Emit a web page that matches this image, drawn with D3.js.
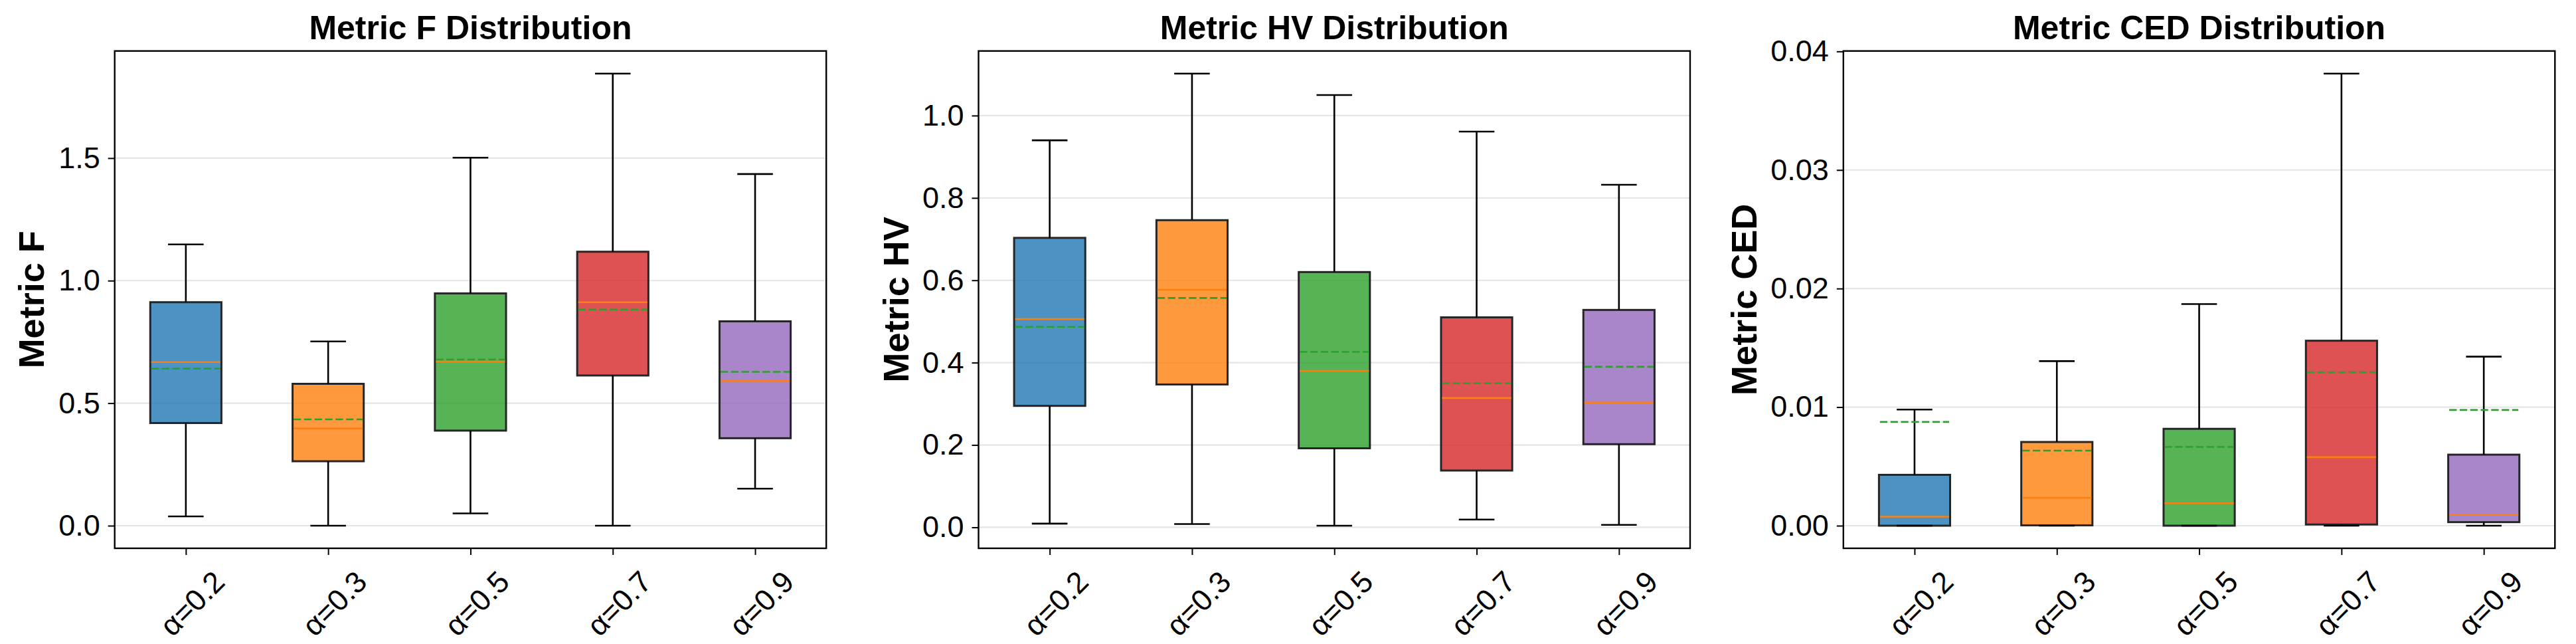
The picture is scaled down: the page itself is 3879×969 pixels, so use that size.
<!DOCTYPE html>
<html>
<head>
<meta charset="utf-8">
<script src="https://cdn.jsdelivr.net/npm/d3@7"></script>
<style>
  html, body { margin: 0; padding: 0; background: #fff; }
  svg { display: block; }
  text { font-family: "Liberation Sans", Arial, sans-serif; }
</style>
</head>
<body>
<svg id="chart" width="3879" height="969"></svg>
<script>
// ---- data ----
const categories = ["α=0.2", "α=0.3", "α=0.5", "α=0.7", "α=0.9"];
const colors = ["#1f77b4", "#ff7f0e", "#2ca02c", "#d62728", "#9467bd"];

const F_lo   = [0.038, 0.000, 0.050, 0.000, 0.151];
const F_q1   = [0.419, 0.263, 0.388, 0.613, 0.357];
const F_med  = [0.668, 0.397, 0.670, 0.912, 0.591];
const F_q3   = [0.912, 0.579, 0.948, 1.118, 0.834];
const F_hi   = [1.148, 0.752, 1.502, 1.845, 1.435];
const F_mean = [0.641, 0.434, 0.678, 0.882, 0.628];
const F_ticks = [0.0, 0.5, 1.0, 1.5];

const HV_lo   = [0.009, 0.008, 0.004, 0.019, 0.006];
const HV_q1   = [0.295, 0.347, 0.192, 0.138, 0.202];
const HV_med  = [0.506, 0.577, 0.380, 0.314, 0.303];
const HV_q3   = [0.703, 0.746, 0.620, 0.510, 0.528];
const HV_hi   = [0.940, 1.102, 1.050, 0.961, 0.832];
const HV_mean = [0.487, 0.557, 0.426, 0.350, 0.390];
const HV_ticks = [0.0, 0.2, 0.4, 0.6, 0.8, 1.0];

const CED_lo   = [0.0, 0.0, 0.0, 0.0, 0.0];
const CED_q1   = [0.0, 0.00003, 0.0, 0.0001, 0.0003];
const CED_med  = [0.00076, 0.00235, 0.0019, 0.00578, 0.00093];
const CED_q3   = [0.00429, 0.00706, 0.00817, 0.0156, 0.00599];
const CED_hi   = [0.00979, 0.01388, 0.01869, 0.03813, 0.01426];
const CED_mean = [0.00875, 0.00633, 0.00664, 0.01294, 0.00976];
const CED_ticks = [0.00, 0.01, 0.02, 0.03, 0.04];

const panels = [
  { title: "Metric F Distribution", ylabel: "Metric F", lo: F_lo, q1: F_q1, med: F_med, q3: F_q3, hi: F_hi, mean: F_mean, ticks: F_ticks, fmt: ".1f" },
  { title: "Metric HV Distribution", ylabel: "Metric HV", lo: HV_lo, q1: HV_q1, med: HV_med, q3: HV_q3, hi: HV_hi, mean: HV_mean, ticks: HV_ticks, fmt: ".1f" },
  { title: "Metric CED Distribution", ylabel: "Metric CED", lo: CED_lo, q1: CED_q1, med: CED_med, q3: CED_q3, hi: CED_hi, mean: CED_mean, ticks: CED_ticks, fmt: ".2f" }
];

// ---- layout ----
const axLefts = [172.7, 1473.5, 2775.8];
const axWidth = 1071.5;
const axTop = 76.7, axBottom = 825;
const ylabelOffsets = [106.5, 105.5, 131];

const svg = d3.select("#chart");
svg.append("rect").attr("width", 3879).attr("height", 969).attr("fill", "#fff");

panels.forEach((p, pi) => {
  const left = axLefts[pi], right = left + axWidth;
  const g = svg.append("g");

  const x = d3.scaleLinear().domain([0.5, 5.5]).range([left, right]);
  const lo = d3.min(p.lo), hi = d3.max(p.hi);
  const pad = (hi - lo) * 0.05;
  const y = d3.scaleLinear().domain([lo - pad, hi + pad]).range([axBottom, axTop]);

  // grid
  g.append("g").selectAll("line").data(p.ticks).join("line")
    .attr("x1", left).attr("x2", right)
    .attr("y1", d => y(d)).attr("y2", d => y(d))
    .attr("stroke", "#e5e5e5").attr("stroke-width", 2.2);

  const idx = d3.range(categories.length);
  const halfBox = x(1.25) - x(1);
  const halfCap = x(1.125) - x(1);

  // boxes
  g.append("g").selectAll("rect").data(idx).join("rect")
    .attr("x", i => x(i + 1) - halfBox)
    .attr("width", 2 * halfBox)
    .attr("y", i => y(p.q3[i]))
    .attr("height", i => Math.max(0, y(p.q1[i]) - y(p.q3[i])))
    .attr("fill", i => colors[i]).attr("fill-opacity", 0.8)
    .attr("stroke", "#262626").attr("stroke-width", 3);

  // whiskers
  const wg = g.append("g").attr("stroke", "#000").attr("stroke-width", 2.6);
  idx.forEach(i => {
    const cx = x(i + 1);
    wg.append("line").attr("x1", cx).attr("x2", cx).attr("y1", y(p.q3[i])).attr("y2", y(p.hi[i]));
    wg.append("line").attr("x1", cx).attr("x2", cx).attr("y1", y(p.q1[i])).attr("y2", y(p.lo[i]));
    wg.append("line").attr("x1", cx - halfCap).attr("x2", cx + halfCap).attr("y1", y(p.hi[i])).attr("y2", y(p.hi[i]));
    wg.append("line").attr("x1", cx - halfCap).attr("x2", cx + halfCap).attr("y1", y(p.lo[i])).attr("y2", y(p.lo[i]));
  });

  // medians
  g.append("g").selectAll("line").data(idx).join("line")
    .attr("x1", i => x(i + 1) - halfBox + 1.5).attr("x2", i => x(i + 1) + halfBox - 1.5)
    .attr("y1", i => y(p.med[i])).attr("y2", i => y(p.med[i]))
    .attr("stroke", "#ff7f0e").attr("stroke-width", 2.6);

  // means (dashed)
  g.append("g").selectAll("line").data(idx).join("line")
    .attr("x1", i => x(i + 1) - halfBox + 1.5).attr("x2", i => x(i + 1) + halfBox - 1.5)
    .attr("y1", i => y(p.mean[i])).attr("y2", i => y(p.mean[i]))
    .attr("stroke", "#2ca02c").attr("stroke-width", 2.6)
    .attr("stroke-dasharray", "11.3,4.5");

  // y axis
  const yAxis = d3.axisLeft(y).tickValues(p.ticks).tickFormat(d3.format(p.fmt))
    .tickSize(10).tickPadding(12);
  const ya = g.append("g").attr("transform", `translate(${left},0)`).call(yAxis);
  ya.select(".domain").remove();
  ya.selectAll(".tick line").attr("stroke", "#000").attr("stroke-width", 2);
  ya.selectAll(".tick text").attr("font-size", 45).attr("fill", "#000")
    .attr("font-family", "'Liberation Sans', Arial, sans-serif");

  // x axis
  const xAxis = d3.axisBottom(x).tickValues([1, 2, 3, 4, 5]).tickFormat(d => categories[d - 1])
    .tickSize(10).tickPadding(0);
  const xa = g.append("g").attr("transform", `translate(0,${axBottom})`).call(xAxis);
  xa.select(".domain").remove();
  xa.selectAll(".tick line").attr("stroke", "#000").attr("stroke-width", 2);
  xa.selectAll(".tick text")
    .attr("font-size", 45).attr("fill", "#000")
    .attr("font-family", "'Liberation Sans', Arial, sans-serif")
    .attr("text-anchor", "middle")
    .attr("dy", null)
    .attr("dominant-baseline", "central")
    .attr("transform", "translate(2,76) rotate(-45)");

  // frame
  g.append("rect").attr("x", left).attr("y", axTop)
    .attr("width", axWidth).attr("height", axBottom - axTop)
    .attr("fill", "none").attr("stroke", "#000").attr("stroke-width", 2.4);

  // title
  g.append("text").attr("x", (left + right) / 2).attr("y", 58.5)
    .attr("text-anchor", "middle").attr("font-size", 50).attr("font-weight", "bold")
    .attr("fill", "#000").text(p.title);

  // y label
  const lx = left - ylabelOffsets[pi], ly = (axTop + axBottom) / 2;
  g.append("text").attr("transform", `translate(${lx},${ly}) rotate(-90)`)
    .attr("text-anchor", "middle").attr("font-size", 54).attr("font-weight", "bold")
    .attr("fill", "#000").text(p.ylabel);
});
</script>
</body>
</html>
